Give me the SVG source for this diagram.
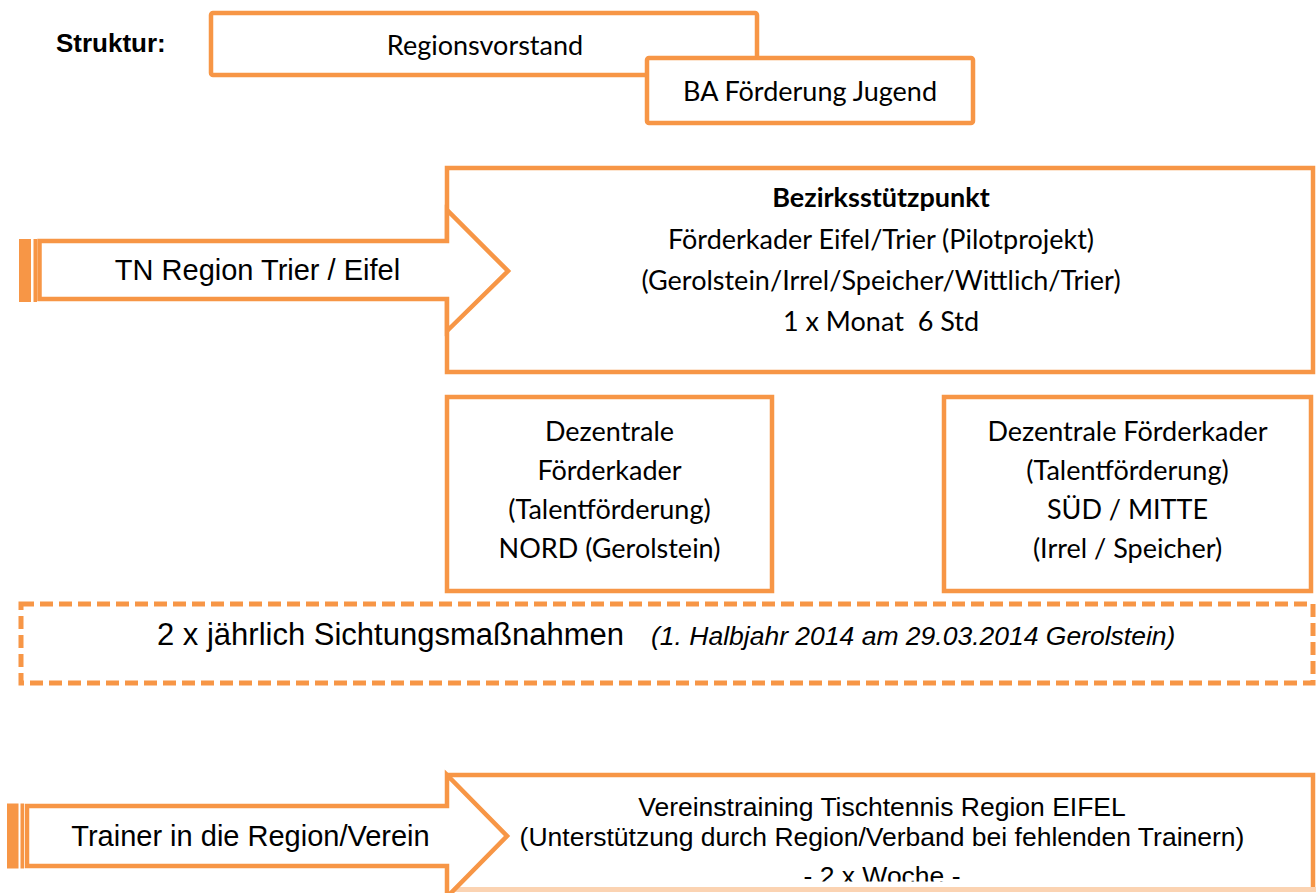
<svg xmlns="http://www.w3.org/2000/svg" width="1316" height="893" viewBox="0 0 1316 893">
<defs>
<style>
.box{fill:#fff;stroke:#F79646;stroke-width:4.5;stroke-linejoin:miter}
.edge{fill:none;stroke:#F79646;stroke-width:4.5}
.dash{fill:none;stroke:#F79646;stroke-width:5;stroke-dasharray:13 6}
.bar{fill:#F79646}
.cal{font-family:Lato,"Open Sans","Noto Sans",sans-serif;font-size:27px;fill:#000;text-anchor:middle}
.ar{font-family:"Liberation Sans",Arial,sans-serif;fill:#000}
.mid{text-anchor:middle}
</style>
<clipPath id="clipBottom"><rect x="0" y="0" width="1316" height="881.5"/></clipPath>
</defs>
<rect width="1316" height="893" fill="#fff"/>

<g id="label-struktur">
<text class="ar" x="56" y="52" font-size="26" font-weight="bold">Struktur:</text>
</g>

<g id="regionsvorstand">
<rect class="box" x="211" y="13" width="546" height="62" rx="2"/>
<text class="cal" x="485" y="55">Regionsvorstand</text>
</g>

<g id="ba-foerderung">
<rect class="box" x="647" y="58" width="326" height="65" rx="2"/>
<text class="cal" x="810" y="101">BA Förderung Jugend</text>
</g>

<g id="bezirksstuetzpunkt">
<rect class="box" x="447" y="168" width="866" height="204"/>
<text class="cal" x="881" y="207" font-weight="bold">Bezirksstützpunkt</text>
<text class="cal" x="881" y="249">Förderkader Eifel/Trier (Pilotprojekt)</text>
<text class="cal" x="881" y="290">(Gerolstein/Irrel/Speicher/Wittlich/Trier)</text>
<text class="cal" x="881" y="331" xml:space="preserve">1 x Monat  6 Std</text>
</g>

<g id="arrow-tn-region">
<path class="box" d="M39.5,241 H447 V210 L508,271 L447,331 V299 H39.5 Z"/>
<rect class="bar" x="19" y="239" width="12" height="63"/>
<rect class="bar" x="33.5" y="239" width="3.5" height="63"/>
<text class="ar mid" x="257.5" y="280" font-size="29">TN Region Trier / Eifel</text>
</g>

<g id="dezentral-nord">
<rect class="box" x="447" y="397" width="325" height="194"/>
<text class="cal" x="609.5" y="441">Dezentrale</text>
<text class="cal" x="609.5" y="480">Förderkader</text>
<text class="cal" x="609.5" y="519">(Talentförderung)</text>
<text class="cal" x="609.5" y="558">NORD (Gerolstein)</text>
</g>

<g id="dezentral-sued-mitte">
<rect class="box" x="944" y="397" width="367" height="194"/>
<text class="cal" x="1127.5" y="441">Dezentrale Förderkader</text>
<text class="cal" x="1127.5" y="480">(Talentförderung)</text>
<text class="cal" x="1127.5" y="519">SÜD / MITTE</text>
<text class="cal" x="1127.5" y="558">(Irrel / Speicher)</text>
</g>

<g id="sichtung">
<rect class="dash" x="21" y="604" width="1292" height="79"/>
<text class="ar" x="157" y="645" font-size="31">2 x jährlich Sichtungsmaßnahmen<tspan x="651" font-style="italic" font-size="26.5">(1. Halbjahr 2014 am 29.03.2014 Gerolstein)</tspan></text>
</g>

<g id="vereinstraining">
<rect x="447" y="775" width="866" height="112" fill="#fff"/>
<path class="edge" d="M447,775 H1313 V887"/>
<rect x="447" y="887" width="869" height="5" fill="#FBD3B2"/>
<g clip-path="url(#clipBottom)">
<text class="ar mid" x="882" y="815.5" font-size="26.5">Vereinstraining Tischtennis Region EIFEL</text>
<text class="ar mid" x="882" y="846" font-size="26.5">(Unterstützung durch Region/Verband bei fehlenden Trainern)</text>
<text class="ar mid" x="882" y="885" font-size="26.5">- 2 x Woche -</text>
</g>
</g>

<g id="arrow-trainer">
<path class="box" d="M27,806 H447 V775 L507,836 L447,897 V866 H27 Z"/>
<rect class="bar" x="7" y="803.5" width="11.5" height="65"/>
<rect class="bar" x="20.5" y="803.5" width="3.5" height="65"/>
<text class="ar mid" x="250.5" y="846" font-size="29">Trainer in die Region/Verein</text>
</g>

<g id="connectors"></g>
</svg>
